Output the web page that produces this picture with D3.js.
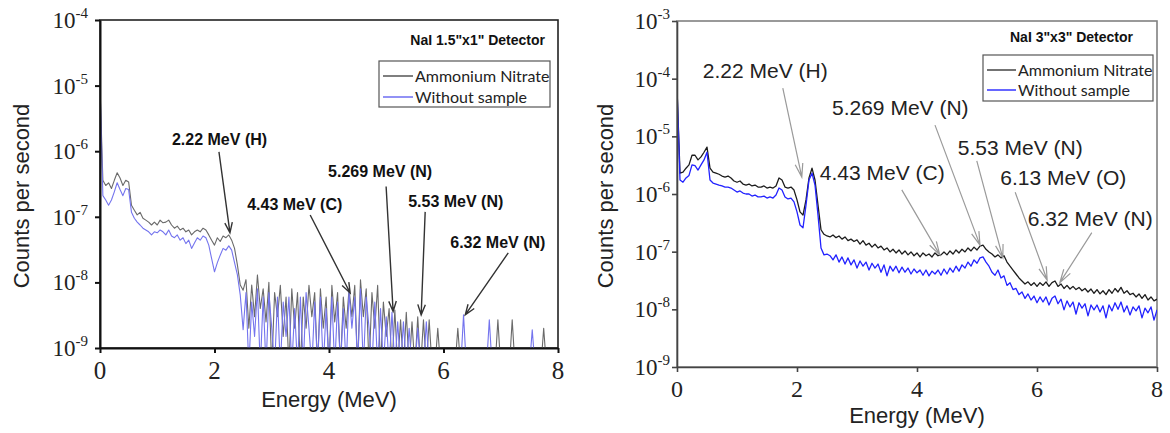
<!DOCTYPE html>
<html>
<head>
<meta charset="utf-8">
<script src="https://cdn.jsdelivr.net/npm/d3@7/dist/d3.min.js"></script>
<style>
  body { margin: 0; background: #fff; }
  svg { display: block; }
</style>
</head>
<body>
<div id="chart"></div>
<script>
// Energy channels (MeV), one every 0.05 MeV from 0 to 8.
var energy = d3.range(161).map(function (i) { return +(i * 0.05).toFixed(2); });

// Tick values.
var xTicks = [0, 2, 4, 6, 8];
var leftYTicks = [1e-9, 1e-8, 1e-7, 1e-6, 1e-5, 1e-4];
var rightYTicks = [1e-9, 1e-8, 1e-7, 1e-6, 1e-5, 1e-4, 1e-3];

var seriesNames = ['Ammonium Nitrate', 'Without sample'];

// NaI 1.5"x1" detector, counts per second (values below 1e-9 fall off the axis).
var smallAmmonium = [
  1.0e-5, 3.6e-7, 3.0e-7, 3.3e-7, 2.7e-7, 3.6e-7, 4.7e-7, 3.9e-7, 3.0e-7, 3.6e-7,
  3.4e-7, 1.5e-7, 1.26e-7, 1.07e-7, 1.17e-7, 9.5e-8, 8.9e-8, 8.3e-8, 7.5e-8, 8.3e-8,
  7.5e-8, 8.9e-8, 8.1e-8, 8.3e-8, 8.9e-8, 7.5e-8, 6.7e-8, 7.2e-8, 6.3e-8, 6.7e-8,
  5.9e-8, 6.3e-8, 5.3e-8, 5.9e-8, 6.3e-8, 5.9e-8, 6.7e-8, 6.3e-8, 5.3e-8, 4.4e-8,
  3.7e-8, 4.8e-8, 4.2e-8, 5.1e-8, 4.8e-8, 5.3e-8, 4.4e-8, 3.3e-8, 1.85e-8, 9.1e-9,
  7.6e-9, 1.1e-8, 2e-9, 9.1e-9, 3e-9, 1.3e-8, 4e-9, 8e-9, 2.5e-9, 1.0e-8,
  5e-10, 7e-9, 3e-9, 9e-9, 1.5e-9, 6e-9, 5e-10, 8e-9, 2e-9, 7e-9,
  5e-10, 6e-9, 2e-9, 9e-9, 3e-9, 7e-9, 5e-10, 8e-9, 2e-9, 6e-9,
  5e-10, 9e-9, 2.5e-9, 7e-9, 5e-10, 6e-9, 2e-9, 8e-9, 3e-9, 9e-9,
  5e-10, 1.1e-8, 3e-9, 8e-9, 5e-10, 7e-9, 2e-9, 9e-9, 5e-10, 5e-9,
  1.5e-9, 4e-9, 5e-10, 3.8e-9, 5e-10, 2.7e-9, 5e-10, 3.5e-9, 5e-10, 2.5e-9,
  5e-10, 3e-9, 5e-10, 2.7e-9, 5e-10, 2.7e-9, 5e-10, 5e-10, 2e-9, 5e-10,
  5e-10, 5e-10, 5e-10, 5e-10, 5e-10, 2e-9, 5e-10, 5e-10, 5e-10, 5e-10,
  5e-10, 5e-10, 5e-10, 5e-10, 5e-10, 5e-10, 5e-10, 5e-10, 5e-10, 2.7e-9,
  5e-10, 5e-10, 5e-10, 5e-10, 2.7e-9, 5e-10, 5e-10, 5e-10, 5e-10, 5e-10,
  5e-10, 5e-10, 5e-10, 5e-10, 5e-10, 2e-9, 5e-10, 5e-10, 5e-10, 5e-10,
  5e-10
];
var smallWithout = [
  1.0e-5, 2.1e-7, 1.8e-7, 1.5e-7, 1.8e-7, 2.4e-7, 3.3e-7, 2.6e-7, 2.1e-7, 2.7e-7,
  2.6e-7, 1.17e-7, 9.5e-8, 8.3e-8, 7.5e-8, 6.7e-8, 6.3e-8, 5.9e-8, 5.3e-8, 5.9e-8,
  5.7e-8, 6.3e-8, 5.9e-8, 5.3e-8, 6.3e-8, 5.1e-8, 4.8e-8, 5.3e-8, 4.4e-8, 4.8e-8,
  3.9e-8, 4.4e-8, 3.3e-8, 4.0e-8, 4.8e-8, 4.4e-8, 5.1e-8, 4.8e-8, 3.7e-8, 2.3e-8,
  1.45e-8, 2.0e-8, 2.6e-8, 3.3e-8, 3.1e-8, 3.6e-8, 3.1e-8, 2.0e-8, 1.3e-8, 6.4e-9,
  1.9e-9, 7e-9, 5e-10, 5e-9, 1.5e-9, 8e-9, 5e-10, 6e-9, 5e-10, 7e-9,
  2e-9, 5e-10, 6e-9, 5e-10, 5e-9, 1.5e-9, 6e-9, 5e-10, 4e-9, 5e-10,
  6e-9, 5e-10, 7e-9, 2e-9, 5e-10, 5e-9, 5e-10, 6e-9, 5e-10, 4e-9,
  5e-10, 6e-9, 5e-10, 5e-9, 5e-10, 4e-9, 5e-10, 7e-9, 2e-9, 6e-9,
  5e-10, 8e-9, 5e-10, 6e-9, 2e-9, 5e-10, 5e-9, 5e-10, 4e-9, 5e-10,
  3e-9, 5e-10, 3.5e-9, 5e-10, 2.5e-9, 5e-10, 2.5e-9, 5e-10, 2e-9, 5e-10,
  5e-10, 2e-9, 5e-10, 5e-10, 2.5e-9, 5e-10, 5e-10, 5e-10, 5e-10, 5e-10,
  5e-10, 5e-10, 5e-10, 5e-10, 5e-10, 5e-10, 5e-10, 3.2e-9, 5e-10, 5e-10,
  5e-10, 5e-10, 5e-10, 5e-10, 5e-10, 5e-10, 2.7e-9, 5e-10, 5e-10, 5e-10,
  5e-10, 5e-10, 5e-10, 5e-10, 5e-10, 5e-10, 5e-10, 5e-10, 5e-10, 5e-10,
  5e-10, 1.9e-9, 5e-10, 5e-10, 5e-10, 5e-10, 5e-10, 5e-10, 5e-10, 5e-10,
  5e-10
];

// NaI 3"x3" detector, counts per second.
var largeAmmonium = [
  6.9e-5, 2.3e-6, 2.4e-6, 2.8e-6, 3.2e-6, 4.7e-6, 4.7e-6, 3.9e-6, 4.4e-6, 5.3e-6,
  6.5e-6, 2.8e-6, 2.4e-6, 2.3e-6, 2.2e-6, 2.05e-6, 1.97e-6, 2.05e-6, 1.9e-6, 1.68e-6,
  1.6e-6, 1.68e-6, 1.49e-6, 1.43e-6, 1.49e-6, 1.38e-6, 1.43e-6, 1.32e-6, 1.32e-6, 1.38e-6,
  1.27e-6, 1.32e-6, 1.27e-6, 1.38e-6, 1.9e-6, 1.75e-6, 1.32e-6, 1.27e-6, 1.32e-6, 1.17e-6,
  7.9e-7, 4.9e-7, 4.3e-7, 7.9e-7, 1.9e-6, 2.8e-6, 1.75e-6, 6.4e-7, 2.4e-7, 2.0e-7,
  1.87e-7, 1.8e-7, 1.95e-7, 1.75e-7, 1.87e-7, 1.65e-7, 1.8e-7, 1.55e-7, 1.65e-7, 1.5e-7,
  1.6e-7, 1.35e-7, 1.55e-7, 1.3e-7, 1.4e-7, 1.2e-7, 1.35e-7, 1.16e-7, 1.25e-7, 1.07e-7,
  1.16e-7, 9.9e-8, 1.1e-7, 9.5e-8, 1.07e-7, 9.1e-8, 1.03e-7, 8.8e-8, 9.9e-8, 8.5e-8,
  9.5e-8, 8.1e-8, 9.5e-8, 8.5e-8, 9.1e-8, 8.1e-8, 9.5e-8, 8.5e-8, 8.8e-8, 9.9e-8,
  8.8e-8, 1.03e-7, 9.1e-8, 1.07e-7, 9.5e-8, 1.1e-7, 9.9e-8, 1.16e-7, 1.03e-7, 1.2e-7,
  1.07e-7, 1.25e-7, 1.3e-7, 1.1e-7, 9.9e-8, 9.1e-8, 8.1e-8, 8.8e-8, 7.8e-8, 8.5e-8,
  6.6e-8, 5.6e-8, 4.8e-8, 4.1e-8, 3.5e-8, 3.1e-8, 2.75e-8, 3.0e-8, 2.6e-8, 2.9e-8,
  2.5e-8, 2.9e-8, 2.6e-8, 3.0e-8, 2.5e-8, 2.9e-8, 3.1e-8, 2.5e-8, 2.75e-8, 2.3e-8,
  2.6e-8, 2.25e-8, 2.5e-8, 2.2e-8, 2.4e-8, 2.1e-8, 2.3e-8, 2.0e-8, 2.25e-8, 1.9e-8,
  2.2e-8, 1.85e-8, 2.1e-8, 1.8e-8, 2.2e-8, 1.9e-8, 2.3e-8, 2.0e-8, 2.4e-8, 1.9e-8,
  2.1e-8, 1.8e-8, 1.9e-8, 1.64e-8, 1.85e-8, 1.55e-8, 1.8e-8, 1.45e-8, 1.64e-8, 1.4e-8,
  1.5e-8
];
var largeWithout = [
  6.9e-5, 1.75e-6, 1.6e-6, 1.9e-6, 2.1e-6, 3.2e-6, 3.1e-6, 2.6e-6, 3.2e-6, 3.9e-6,
  5.3e-6, 1.75e-6, 1.55e-6, 1.49e-6, 1.43e-6, 1.38e-6, 1.32e-6, 1.32e-6, 1.27e-6, 1.17e-6,
  1.08e-6, 1.13e-6, 1.04e-6, 1.0e-6, 1.0e-6, 9.2e-7, 9.6e-7, 8.9e-7, 8.9e-7, 9.2e-7,
  8.5e-7, 8.9e-7, 8.5e-7, 9.6e-7, 1.27e-6, 1.17e-6, 8.9e-7, 8.2e-7, 8.5e-7, 7.3e-7,
  4.9e-7, 2.9e-7, 2.6e-7, 6.4e-7, 1.75e-6, 2.3e-6, 1.43e-6, 4.3e-7, 1.16e-7, 8.8e-8,
  9.1e-8, 8.5e-8, 7.2e-8, 8.8e-8, 6.6e-8, 8.1e-8, 6.1e-8, 7.8e-8, 5.9e-8, 7.2e-8,
  5.2e-8, 6.9e-8, 5.6e-8, 6.6e-8, 4.8e-8, 6.3e-8, 5.2e-8, 6.1e-8, 4.4e-8, 5.9e-8,
  3.8e-8, 5.6e-8, 4.6e-8, 5.6e-8, 4.3e-8, 5.4e-8, 4.4e-8, 5.2e-8, 4.1e-8, 5.0e-8,
  4.3e-8, 4.8e-8, 3.9e-8, 4.8e-8, 3.8e-8, 4.6e-8, 4.1e-8, 4.8e-8, 3.9e-8, 5.0e-8,
  4.1e-8, 5.2e-8, 4.4e-8, 5.6e-8, 4.6e-8, 5.9e-8, 5.2e-8, 6.6e-8, 5.6e-8, 7.2e-8,
  6.3e-8, 7.8e-8, 8.1e-8, 6.6e-8, 5.6e-8, 4.4e-8, 3.9e-8, 4.8e-8, 3.5e-8, 3.8e-8,
  2.6e-8, 2.9e-8, 2.2e-8, 2.3e-8, 1.8e-8, 2.0e-8, 1.55e-8, 1.85e-8, 1.45e-8, 1.7e-8,
  1.3e-8, 1.64e-8, 1.34e-8, 1.64e-8, 1.19e-8, 1.55e-8, 1.7e-8, 1.25e-8, 1.5e-8, 9.8e-9,
  1.4e-8, 1.1e-8, 1.34e-8, 8.3e-9, 1.3e-8, 1.05e-8, 1.25e-8, 7.7e-9, 1.19e-8, 9.8e-9,
  1.19e-8, 9.0e-9, 1.15e-8, 7.1e-9, 1.19e-8, 9.4e-9, 1.3e-8, 1.0e-8, 1.34e-8, 9.0e-9,
  1.15e-8, 8.0e-9, 1.1e-8, 9.4e-9, 1.15e-8, 7.1e-9, 1.05e-8, 8.7e-9, 1.1e-8, 6.5e-9,
  9.8e-9
];

// Peak labels: arrow tip at (energy, counts); text and tail offsets in pixels.
var peakLabels = ['2.22 MeV (H)', '4.43 MeV (C)', '5.269 MeV (N)', '5.53 MeV (N)', '6.32 MeV (N)'];
var smallTipEnergy = [2.27, 4.37, 5.12, 5.61, 6.38];
var smallTipCounts = [5.7e-8, 6.9e-9, 3.6e-9, 3.2e-9, 3.2e-9];
var smallTail = [[-11, -81], [-40, -78], [-7, -125], [4, -103], [43, -62]];
var smallText = [[-58, -88], [-103, -83], [-65, -135], [-13, -108], [-15, -67]];

var largeLabels = ['2.22 MeV (H)', '4.43 MeV (C)', '5.269 MeV (N)', '5.53 MeV (N)', '6.13 MeV (O)', '6.32 MeV (N)'];
var largeTipEnergy = [2.08, 4.38, 5.05, 5.43, 6.17, 6.38];
var largeTipCounts = [1.97e-6, 8.8e-8, 1.3e-7, 7.8e-8, 3.2e-8, 2.9e-8];
var largeTail = [[-19, -89], [-38, -65], [-45, -120], [-26, -97], [-32, -88], [32, -50]];
var largeText = [[-99, -99], [-120, -75], [-148, -130], [-45, -103], [-47, -95], [-32, -57]];

// Closure to create a private scope for the spectrum chart.
var spectrumChart = function () {

  var plot = {left: 100, top: 20, right: 558, bottom: 348},
    yDomain = [1e-9, 1e-4],
    yTicks = leftYTicks,
    style = {};

  function chart(selection) {
    selection.each(function (p) {
      var g = d3.select(this);
      var x = d3.scaleLinear().domain([0, 8]).range([plot.left, plot.right]);
      var y = d3.scaleLog().domain(yDomain).range([plot.bottom, plot.top]);
      var w = plot.right - plot.left,
        h = plot.bottom - plot.top;

      g.append('clipPath').attr('id', 'clip-' + p.id)
        .append('rect')
        .attr('x', plot.left).attr('y', plot.top)
        .attr('width', w).attr('height', h);

      // Frame (top and right edges show)
      g.append('rect')
        .attr('x', plot.left).attr('y', plot.top)
        .attr('width', w).attr('height', h)
        .attr('fill', 'none')
        .attr('stroke', style.frame)
        .attr('stroke-width', style.frameWidth);

      // Spectra
      var line = d3.line()
        .x(function (d, i) { return x(energy[i]); })
        .y(function (d) { return y(d); });

      g.append('g')
        .attr('clip-path', 'url(#clip-' + p.id + ')')
        .selectAll('path')
        .data(p.series)
        .enter()
        .append('path')
        .attr('d', function (s) { return line(s.values); })
        .attr('fill', 'none')
        .attr('stroke', function (s, i) { return style.colors[i]; })
        .attr('stroke-width', style.lineWidth)
        .attr('stroke-linejoin', 'round');

      // Axes
      var yAxis = g.append('g')
        .attr('transform', 'translate(' + plot.left + ',0)')
        .call(d3.axisLeft(y).tickValues(yTicks).tickSize(5).tickSizeOuter(0).tickFormat(''));
      var xAxis = g.append('g')
        .attr('transform', 'translate(0,' + plot.bottom + ')')
        .call(d3.axisBottom(x).tickValues(xTicks).tickSize(5).tickSizeOuter(0).tickFormat(''));
      [yAxis, xAxis].forEach(function (a) {
        a.selectAll('path, line')
          .attr('stroke', style.axis)
          .attr('stroke-width', style.axisWidth);
      });

      // Power-of-ten tick labels
      var yl = g.append('g').selectAll('text')
        .data(yTicks)
        .enter()
        .append('text')
        .attr('x', plot.left - style.yLabelGap)
        .attr('y', function (d) { return y(d) + 8; })
        .attr('text-anchor', 'end')
        .attr('font-family', 'Liberation Serif, Times New Roman, serif')
        .attr('fill', '#222');
      yl.append('tspan').attr('font-size', 23).text('10');
      yl.append('tspan')
        .attr('font-size', 15)
        .attr('dy', -10)
        .text(function (d) { return '-' + Math.round(-Math.log10(d)); });

      g.append('g').selectAll('text')
        .data(xTicks)
        .enter()
        .append('text')
        .attr('x', function (d) { return x(d); })
        .attr('y', plot.bottom + style.xLabelGap)
        .attr('text-anchor', 'middle')
        .attr('font-family', 'Liberation Serif, Times New Roman, serif')
        .attr('font-size', style.xLabelSize)
        .attr('fill', '#222')
        .text(function (d) { return d; });

      // Axis titles
      g.append('text')
        .attr('x', (plot.left + plot.right) / 2)
        .attr('y', plot.bottom + style.xTitleGap)
        .attr('text-anchor', 'middle')
        .attr('font-family', 'Liberation Sans, Arial, sans-serif')
        .attr('font-size', 22)
        .attr('fill', '#222')
        .text('Energy (MeV)');
      g.append('text')
        .attr('transform', 'translate(' + (plot.left - style.yTitleGap) + ',196) rotate(-90)')
        .attr('text-anchor', 'middle')
        .attr('font-family', 'Liberation Sans, Arial, sans-serif')
        .attr('font-size', 22)
        .attr('fill', '#222')
        .text('Counts per second');

      // Detector title
      g.append('text')
        .attr('x', style.title[0]).attr('y', style.title[1])
        .attr('text-anchor', 'end')
        .attr('font-family', 'Liberation Sans, Arial, sans-serif')
        .attr('font-weight', 'bold')
        .attr('font-size', 14)
        .attr('fill', '#111')
        .text(p.title);

      // Legend
      var lg = style.legend;
      var legend = g.append('g');
      legend.append('rect')
        .attr('x', lg.x).attr('y', lg.y)
        .attr('width', lg.w).attr('height', lg.h)
        .attr('fill', '#fff')
        .attr('stroke', '#555')
        .attr('stroke-width', 1.2);
      var rows = legend.selectAll('g.row')
        .data(p.series)
        .enter()
        .append('g')
        .attr('class', 'row')
        .attr('transform', function (d, i) { return 'translate(0,' + lg.rows[i] + ')'; });
      rows.append('line')
        .attr('x1', lg.x + 4).attr('x2', lg.x + lg.line)
        .attr('stroke', function (d, i) { return style.legendColors[i]; })
        .attr('stroke-width', 1.5);
      rows.append('text')
        .attr('x', lg.x + lg.line + 2)
        .attr('dy', '0.35em')
        .attr('font-family', 'Lato, Carlito, sans-serif')
        .attr('font-size', lg.font)
        .attr('fill', '#222')
        .text(function (d) { return d.name; });

      // Peak annotations with arrows
      var notes = g.append('g').selectAll('g')
        .data(p.notes)
        .enter()
        .append('g')
        .attr('transform', function (d) { return 'translate(' + x(d.e) + ',' + y(d.c) + ')'; });
      notes.append('path')
        .attr('d', function (d) {
          var a = Math.atan2(-d.tail[1], -d.tail[0]),
            L = style.head, s = style.spread;
          return 'M' + d.tail[0] + ',' + d.tail[1] + 'L0,0' +
            'M' + (-L * Math.cos(a - s)) + ',' + (-L * Math.sin(a - s)) + 'L0,0' +
            'L' + (-L * Math.cos(a + s)) + ',' + (-L * Math.sin(a + s));
        })
        .attr('fill', 'none')
        .attr('stroke', style.arrow)
        .attr('stroke-width', style.arrowWidth);
      notes.append('text')
        .attr('x', function (d) { return d.text[0]; })
        .attr('y', function (d) { return d.text[1]; })
        .attr('font-family', 'Liberation Sans, Arial, sans-serif')
        .attr('font-weight', style.noteWeight)
        .attr('font-size', style.noteSize)
        .attr('fill', style.noteColor)
        .text(function (d) { return d.label; });
    });
  }

  // Accessor Methods
  chart.plot = function (value) {
    if (!arguments.length) { return plot; }
    plot = value;
    return chart;
  };
  chart.yDomain = function (value) {
    if (!arguments.length) { return yDomain; }
    yDomain = value;
    return chart;
  };
  chart.yTicks = function (value) {
    if (!arguments.length) { return yTicks; }
    yTicks = value;
    return chart;
  };
  chart.style = function (value) {
    if (!arguments.length) { return style; }
    style = value;
    return chart;
  };

  return chart;
};

function buildNotes(labels, es, cs, tails, texts) {
  return labels.map(function (l, i) {
    return {label: l, e: es[i], c: cs[i], tail: tails[i], text: texts[i]};
  });
}

var svg = d3.select('#chart').append('svg')
  .attr('width', 1170)
  .attr('height', 433);

var smallChart = spectrumChart()
  .plot({left: 100, top: 20, right: 558, bottom: 348})
  .yDomain([1e-9, 1e-4])
  .yTicks(leftYTicks)
  .style({
    colors: ['#6a6a6a', '#7474ee'], lineWidth: 1.1,
    frame: '#222', frameWidth: 1.6, axis: '#111', axisWidth: 2,
    yLabelGap: 12, xLabelGap: 31, xLabelSize: 25, xTitleGap: 59, yTitleGap: 71,
    title: [545, 45],
    legend: {x: 379, y: 61, w: 171, h: 46, rows: [76, 97], line: 34, font: 16},
    legendColors: ['#555', '#6e6ef2'],
    arrow: '#333', arrowWidth: 1.4, head: 11, spread: 0.35,
    noteWeight: 'bold', noteSize: 16, noteColor: '#111'
  });

var largeChart = spectrumChart()
  .plot({left: 677, top: 21, right: 1157, bottom: 367})
  .yDomain([1e-9, 1e-3])
  .yTicks(rightYTicks)
  .style({
    colors: ['#1c1c1c', '#2222ff'], lineWidth: 1.3,
    frame: '#808080', frameWidth: 1.6, axis: '#444', axisWidth: 1.6,
    yLabelGap: 7, xLabelGap: 30, xLabelSize: 24, xTitleGap: 56, yTitleGap: 64,
    title: [1133, 42],
    legend: {x: 983, y: 55, w: 170, h: 46, rows: [70, 90], line: 33, font: 16},
    legendColors: ['#444', '#3333ff'],
    arrow: '#9a9a9a', arrowWidth: 1.2, head: 14, spread: 0.28,
    noteWeight: 'normal', noteSize: 21, noteColor: '#222'
  });

svg.append('g')
  .datum({
    id: 'small',
    title: 'NaI 1.5"x1" Detector',
    series: [
      {name: seriesNames[0], values: smallAmmonium},
      {name: seriesNames[1], values: smallWithout}
    ],
    notes: buildNotes(peakLabels, smallTipEnergy, smallTipCounts, smallTail, smallText)
  })
  .call(smallChart);

svg.append('g')
  .datum({
    id: 'large',
    title: 'NaI 3"x3" Detector',
    series: [
      {name: seriesNames[0], values: largeAmmonium},
      {name: seriesNames[1], values: largeWithout}
    ],
    notes: buildNotes(largeLabels, largeTipEnergy, largeTipCounts, largeTail, largeText)
  })
  .call(largeChart);
</script>
</body>
</html>
